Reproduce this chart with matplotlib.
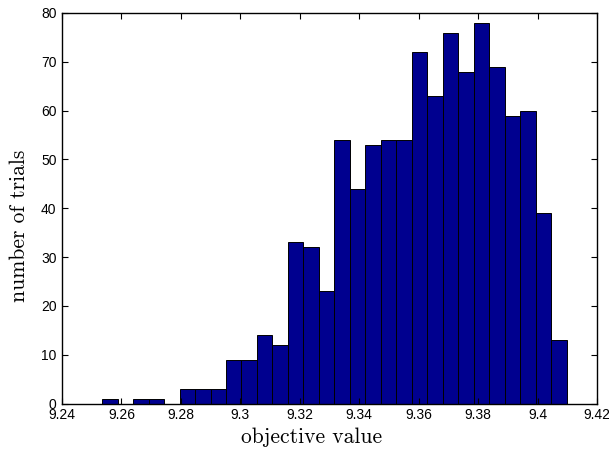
import numpy as np
import matplotlib
matplotlib.use("Agg")
import matplotlib.pyplot as plt

# histogram data (30 equal-width bins)
bin_start = 9.2535
bin_end = 9.4098
counts = [1, 0, 1, 1, 0, 3, 3, 3, 9, 9, 14, 12, 33, 32, 23,
          54, 44, 53, 54, 54, 72, 63, 76, 68, 78, 69, 59, 60, 39, 13]
x_ticks = [9.24, 9.26, 9.28, 9.30, 9.32, 9.34, 9.36, 9.38, 9.40, 9.42]
x_tick_labels = ["9.24", "9.26", "9.28", "9.3", "9.32", "9.34", "9.36", "9.38", "9.4", "9.42"]
y_ticks = [0, 10, 20, 30, 40, 50, 60, 70, 80]

edges = np.linspace(bin_start, bin_end, len(counts) + 1)
width = edges[1] - edges[0]

fig = plt.figure(figsize=(6.09, 4.5), dpi=100)
ax = fig.add_axes([62/609, 46.5/450, 535/609, 390.5/450])

ax.bar(edges[:-1], counts, width=width, align="edge",
       color="#00008F", edgecolor="black", linewidth=0.7)

ax.set_xlim(9.24, 9.42)
ax.set_ylim(0, 80)
ax.set_xticks(x_ticks)
ax.set_xticklabels(x_tick_labels)
ax.set_yticks(y_ticks)

for lab in ax.get_xticklabels() + ax.get_yticklabels():
    lab.set_fontfamily(["Liberation Sans", "DejaVu Sans"])
    lab.set_fontsize(10)

ax.tick_params(direction="in", length=4, width=0.8, top=True, right=True,
               colors="black")
ax.tick_params(axis="x", pad=3)
ax.tick_params(axis="y", pad=4)
for s in ax.spines.values():
    s.set_linewidth(1.0)

ax.set_xlabel("objective value", fontfamily="cmr10", fontsize=15.5)
ax.set_ylabel("number of trials", fontfamily="cmr10", fontsize=15.5)
ax.xaxis.set_label_coords(0.467, -0.062)
ax.yaxis.set_label_coords(-0.062, 0.455)

fig.savefig("out.png", dpi=100)
